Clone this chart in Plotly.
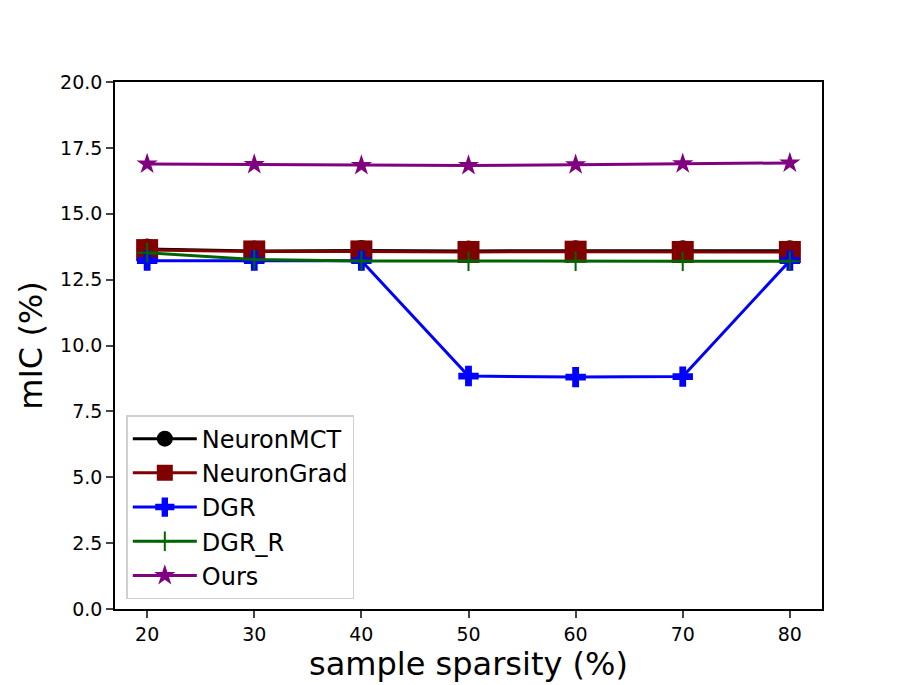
import plotly.graph_objects as go

sparsity = [20, 30, 40, 50, 60, 70, 80]
neuron_mct = [13.66, 13.59, 13.61, 13.59, 13.60, 13.60, 13.60]
neuron_grad = [13.62, 13.57, 13.57, 13.55, 13.56, 13.55, 13.55]
dgr = [13.22, 13.22, 13.22, 8.84, 8.80, 8.82, 13.22]
dgr_r = [13.52, 13.26, 13.21, 13.20, 13.20, 13.20, 13.20]
ours = [16.89, 16.87, 16.83, 16.83, 16.86, 16.90, 16.93]

series = [
    ("NeuronMCT", neuron_mct, "black", "circle", 21, 0),
    ("NeuronGrad", neuron_grad, "#800000", "square", 22, 0),
    ("DGR", dgr, "blue", "cross", 17, 0),
    ("DGR_R", dgr_r, "darkgreen", "cross-thin-open", 14, 2),
    ("Ours", ours, "purple", "star", 16, 0),
]

fig = go.Figure()
for name, vals, color, symbol, size, lw in series:
    fig.add_trace(go.Scatter(
        x=sparsity, y=vals, name=name, legendgroup=name, mode="lines+markers",
        line=dict(color=color, width=3),
        marker=dict(symbol=symbol, size=size, color=color,
                    line=dict(color=color, width=lw)),
    ))

# page body has an 8px margin, so margins are shifted to keep the axes in place
fig.update_layout(
    width=905, height=677,
    margin=dict(l=107, r=91, t=74, b=76),
    plot_bgcolor="white", paper_bgcolor="white",
    font=dict(family="DejaVu Sans", color="black", size=19),
    showlegend=True,
    legend=dict(
        x=0.016, y=0.368, xanchor="left", yanchor="top",
        bgcolor="rgba(255,255,255,0.8)", bordercolor="#d0d0d0", borderwidth=1.5,
        font=dict(size=24), tracegroupgap=0, itemwidth=64,
    ),
    xaxis=dict(
        title=dict(text="sample sparsity (%)", font=dict(size=32), standoff=3),
        range=[17, 83], tickvals=sparsity, ticks="outside", ticklen=7, tickwidth=1.6,
        showline=True, linecolor="black", linewidth=1.6, mirror=True,
        showgrid=False, zeroline=False,
    ),
    yaxis=dict(
        title=dict(text="mIC (%)", font=dict(size=32), standoff=8),
        range=[0, 20], dtick=2.5, tickformat=".1f", ticks="outside", ticklen=7, tickwidth=1.6,
        showline=True, linecolor="black", linewidth=1.6, mirror=True,
        showgrid=False, zeroline=False,
    ),
)

fig.write_html("out.html")
